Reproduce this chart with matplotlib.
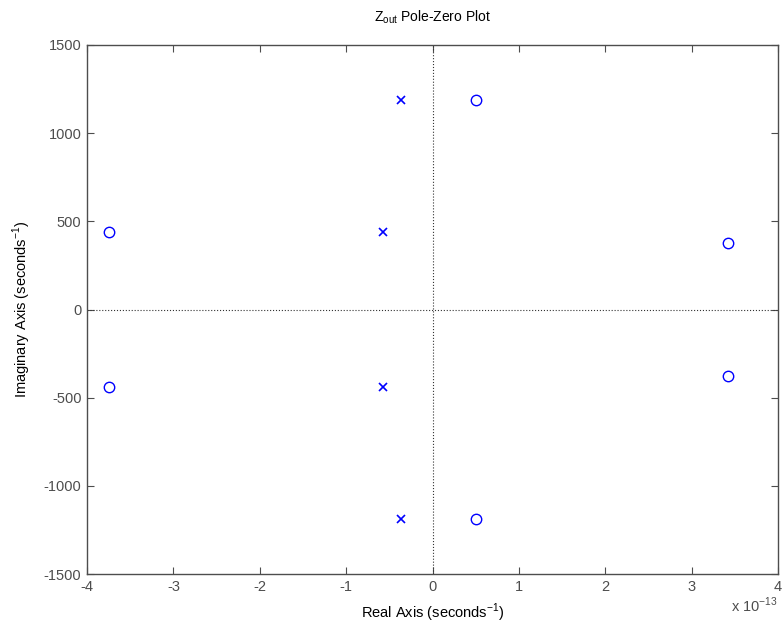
import numpy as np
import matplotlib
matplotlib.use("Agg")
from matplotlib import pyplot as plt

plt.rcParams['font.family'] = ['Liberation Sans', 'DejaVu Sans']
plt.rcParams['axes.unicode_minus'] = False

# poles and zeros, real parts in units of 1e-13
pole_re = [-0.36, -0.36, -0.57, -0.57]
pole_im = [1190, -1190, 440, -440]
zero_re = [0.50, 0.50, -3.75, -3.75, 3.42, 3.42]
zero_im = [1190, -1190, 440, -440, 377, -377]

xticks = [-4, -3, -2, -1, 0, 1, 2, 3, 4]
yticks = [-1500, -1000, -500, 0, 500, 1000, 1500]

fig = plt.figure(figsize=(7.82, 6.29), dpi=100)
ax = fig.add_axes([87/782, 1-574/629, (778-87)/782, (574-45)/629])

gray = '#4d4d4d'
ax.axhline(0, color='#333333', linestyle=':', linewidth=0.8)
ax.axvline(0, color='#333333', linestyle=':', linewidth=0.8)
ax.plot(pole_re, pole_im, 'x', color='#0000ff', markersize=6, markeredgewidth=1.2, linestyle='none')
ax.plot(zero_re, zero_im, 'o', color='#0000ff', markerfacecolor='none', markersize=7.5, markeredgewidth=1.0, linestyle='none')

ax.set_xlim(-4, 4)
ax.set_ylim(-1500, 1500)
ax.set_xticks(xticks)
ax.set_yticks(yticks)
ax.tick_params(direction='in', top=True, right=True, colors=gray, labelsize=10.5, length=5, pad=4)
for s in ax.spines.values():
    s.set_color(gray)
    s.set_linewidth(1.0)

ax.set_title(r'Z$_{\mathregular{out}}$ Pole-Zero Plot', fontsize=10, pad=17)
ax.set_xlabel(r'Real Axis (seconds$^{\mathregular{-1}}$)', fontsize=10.5, labelpad=6)
ax.set_ylabel(r'Imaginary Axis (seconds$^{\mathregular{-1}}$)', fontsize=10.5, labelpad=8)
fig.text(731/782, 1-612/629, r'x 10$^{\mathregular{-13}}$', color=gray, fontsize=10.5, va='baseline')

fig.savefig('out.png', dpi=100)
